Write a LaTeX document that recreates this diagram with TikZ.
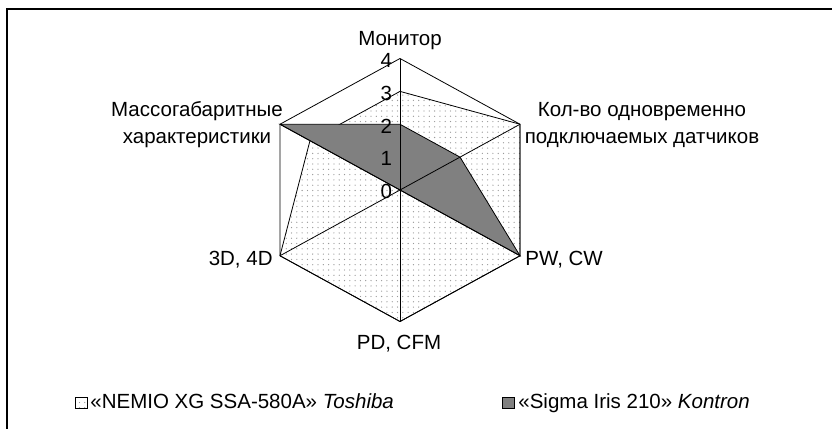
\documentclass[tikz,border=0pt]{standalone}
\usepackage{fontspec}
\setmainfont{Liberation Sans}
\usetikzlibrary{patterns.meta}

\begin{document}
\begin{tikzpicture}[x=1pt,y=-1pt,line width=.8pt,
  font=\fontsize{20.5}{27}\selectfont,
  frame/.style={line width=1.6pt},
  grid/.style={line width=.8pt},
  toshiba/.style={draw,preaction={fill=white},pattern={Dots[distance=5.3pt,radius=.65pt]},pattern color=black!40},
  kontron/.style={draw,fill=black!50},
  axlabel/.style={inner sep=0pt,align=center},
  tick/.style={anchor=east,inner sep=0pt}]
\useasboundingbox (0,0) rectangle (832,429);
\draw[frame] (832,9) -- (7,9) -- (7,429);

% radar: Toshiba 3,4,4,4,4,3 / Kontron 2,2,4,0,0,4
\begin{scope}[shift={(400,190)},x=34.65pt,y=32.875pt]
\coordinate (o) at (0,0);
\foreach \a/\n in {90/mon,30/kol,-30/pw,-90/pd,-150/td,150/mg}
  \coordinate (\n) at (\a:4);
\draw[toshiba] (90:3) -- (30:4) -- (-30:4) -- (-90:4) -- (-150:4) -- (150:3) -- cycle;
\draw[kontron] (90:2) -- (30:2) -- (-30:4) -- (o) -- (150:4) -- cycle;
\draw[grid] (mon) -- (kol) -- (pw) -- (pd) -- (td) -- (mg) -- cycle;
\foreach \n in {mon,kol,pw,pd,td,mg}
  \draw[grid] (o) -- (\n);
\foreach \v in {0,...,4}
  \node[tick] (t\v) at (-0.22,\v-0.05) {\v};
\end{scope}

% axis labels
\node[axlabel,anchor=base] (lmon) at (400,45) {Монитор};
\node[axlabel] (lkol) at (642,124.5) {Кол-во одновременно\\подключаемых датчиков};
\node[axlabel,anchor=base west] (lpw) at (525,265) {PW, CW};
\node[axlabel,anchor=base] (lpd) at (399,349) {PD, CFM};
\node[axlabel,anchor=base east] (ltd) at (273,265) {3D, 4D};
\node[axlabel] (lmg) at (197,124.5) {Массогабаритные\\характеристики};

% legend
\draw[toshiba] (75,397.5) rectangle (87,408.5);
\node[axlabel,anchor=base west] (leg1) at (90,408) {«NEMIO XG SSA-580A» \textit{Toshiba}};
\draw[kontron] (502,397.5) rectangle (514,408.5);
\node[axlabel,anchor=base west] (leg2) at (518,408) {«Sigma Iris 210» \textit{Kontron}};
\end{tikzpicture}
\end{document}
